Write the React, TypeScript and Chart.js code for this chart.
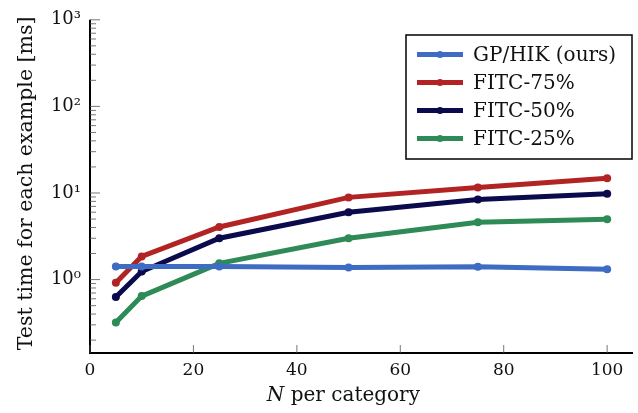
import React, { useEffect, useRef } from "react";
import { Chart, registerables } from "chart.js";

Chart.register(...registerables);

const nValues = [5, 10, 25, 50, 75, 100];
const gpHik = [1.42, 1.42, 1.42, 1.38, 1.41, 1.32];
const fitc75 = [0.92, 1.85, 4.05, 8.9, 11.6, 14.8];
const fitc50 = [0.63, 1.24, 3.0, 6.0, 8.4, 9.8];
const fitc25 = [0.32, 0.645, 1.54, 3.0, 4.6, 4.98];
const seriesLabels = ["GP/HIK (ours)", "FITC-75%", "FITC-50%", "FITC-25%"];
const seriesColors = ["#3d6cc2", "#b22424", "#0a0a4d", "#2e8a56"];
const xTicks = [0, 20, 40, 60, 80, 100];
const yDecades = [-1, 0, 1, 2, 3];
const yLabels: Record<string, string> = { "0": "10⁰", "1": "10¹", "2": "10²", "3": "10³" };

const FONT = "'DejaVu Serif', serif";

const overlayPlugin = {
  id: "overlay",
  afterDatasetsDraw(chart: any) {
    const ctx = chart.ctx;
    const { left, right, top, bottom } = chart.chartArea;
    const xs = chart.scales.x;
    const ys = chart.scales.y;
    ctx.save();
    ctx.strokeStyle = "#000";
    ctx.lineWidth = 2;
    ctx.beginPath();
    ctx.moveTo(left, top);
    ctx.lineTo(left, bottom);
    ctx.lineTo(right, bottom);
    ctx.stroke();
    ctx.lineWidth = 0.8;
    ctx.strokeStyle = "#555";
    xTicks.forEach((v) => {
      const px = xs.getPixelForValue(v);
      ctx.beginPath();
      ctx.moveTo(px, bottom);
      ctx.lineTo(px, bottom - 8);
      ctx.stroke();
    });
    yDecades.forEach((e) => {
      for (let m = 1; m <= 9; m++) {
        const v = m * Math.pow(10, e);
        if (v < ys.min - 1e-9 || v > ys.max + 1e-9) continue;
        const py = ys.getPixelForValue(v);
        ctx.beginPath();
        ctx.moveTo(left, py);
        ctx.lineTo(left + (m === 1 ? 10 : 6), py);
        ctx.stroke();
      }
    });
    ctx.restore();
  },
  afterDraw(chart: any) {
    const ctx = chart.ctx;
    const { top, bottom } = chart.chartArea;
    ctx.save();
    ctx.fillStyle = "#111";
    ctx.font = `20.5px ${FONT}`;
    ctx.textAlign = "center";
    ctx.textBaseline = "middle";
    ctx.translate(27, (top + bottom) / 2 - 3);
    ctx.rotate(-Math.PI / 2);
    ctx.fillText("Test time for each example [ms]", 0, 0);
    ctx.restore();

    ctx.save();
    ctx.fillStyle = "#111";
    ctx.textBaseline = "alphabetic";
    ctx.font = `italic 20px ${FONT}`;
    const nW = ctx.measureText("N").width;
    ctx.font = `20px ${FONT}`;
    const restTxt = " per category";
    const rW = ctx.measureText(restTxt).width;
    const cx = chart.scales.x.getPixelForValue(49);
    const sx = cx - (nW + rW) / 2;
    const by = 401;
    ctx.font = `italic 20px ${FONT}`;
    ctx.textAlign = "left";
    ctx.fillText("N", sx, by);
    ctx.font = `20px ${FONT}`;
    ctx.fillText(restTxt, sx + nW, by);
    ctx.restore();

    ctx.save();
    const bx = 406, byTop = 35, bw = 226, bh = 124;
    ctx.fillStyle = "#fff";
    ctx.fillRect(bx, byTop, bw, bh);
    ctx.strokeStyle = "#000";
    ctx.lineWidth = 1.5;
    ctx.strokeRect(bx, byTop, bw, bh);
    const rows = [54.5, 82.5, 110.5, 138.5];
    chart.data.datasets.forEach((ds: any, i: number) => {
      const ry = rows[i];
      ctx.strokeStyle = ds.borderColor;
      ctx.lineWidth = 5;
      ctx.beginPath();
      ctx.moveTo(417, ry);
      ctx.lineTo(463, ry);
      ctx.stroke();
      ctx.fillStyle = ds.borderColor;
      ctx.beginPath();
      ctx.arc(440, ry, 3.5, 0, Math.PI * 2);
      ctx.fill();
      ctx.fillStyle = "#111";
      ctx.font = `20px ${FONT}`;
      ctx.textAlign = "left";
      ctx.textBaseline = "middle";
      ctx.fillText(ds.label, 473, ry + 1);
    });
    ctx.restore();
  },
};

export default function App() {
  const canvasRef = useRef<HTMLCanvasElement | null>(null);
  useEffect(() => {
    if (!canvasRef.current) return;
    const series = [gpHik, fitc75, fitc50, fitc25];
    const chart = new Chart(canvasRef.current, {
      type: "line",
      data: {
        datasets: series.map((vals, i) => ({
          label: seriesLabels[i],
          data: nValues.map((n, j) => ({ x: n, y: vals[j] })),
          borderColor: seriesColors[i],
          backgroundColor: seriesColors[i],
          borderWidth: 5,
          pointRadius: 4,
          pointHoverRadius: 4,
          pointBorderWidth: 0,
          tension: 0,
          fill: false,
          clip: false,
        })),
      },
      options: {
        responsive: false,
        animation: false,
        events: [],
        layout: { padding: { left: 0, right: 5, top: 17, bottom: 0 } },
        plugins: { legend: { display: false }, tooltip: { enabled: false } },
        scales: {
          x: {
            type: "linear",
            min: 0,
            max: 105,
            grid: { display: false, drawTicks: false },
            border: { display: false },
            afterFit: (s: any) => {
              s.height = 60;
            },
            afterBuildTicks: (s: any) => {
              s.ticks = xTicks.map((v) => ({ value: v }));
            },
            ticks: {
              padding: 7,
              color: "#111",
              font: { family: FONT, size: 17 },
              maxRotation: 0,
              autoSkip: false,
              callback: (v: any) => String(v),
            },
          },
          y: {
            type: "logarithmic",
            min: 0.142,
            max: 1000,
            grid: { display: false, drawTicks: false },
            border: { display: false },
            afterFit: (s: any) => {
              s.width = 90;
            },
            afterBuildTicks: (s: any) => {
              s.ticks = yDecades
                .filter((e) => Math.pow(10, e) >= s.min && Math.pow(10, e) <= s.max)
                .map((e) => ({ value: Math.pow(10, e) }));
            },
            ticks: {
              padding: 9,
              color: "#111",
              font: { family: FONT, size: 18 },
              autoSkip: false,
              callback: (v: any) => {
                const e = Math.round(Math.log10(v));
                return yLabels[String(e)] ?? "";
              },
            },
          },
        },
      },
      plugins: [overlayPlugin],
    } as any);
    return () => chart.destroy();
  }, []);
  return (
    <div style={{ position: "fixed", left: 0, top: 0, width: 638, height: 413, background: "#fff" }}>
      <canvas ref={canvasRef} width={638} height={413} style={{ display: "block" }} />
    </div>
  );
}
